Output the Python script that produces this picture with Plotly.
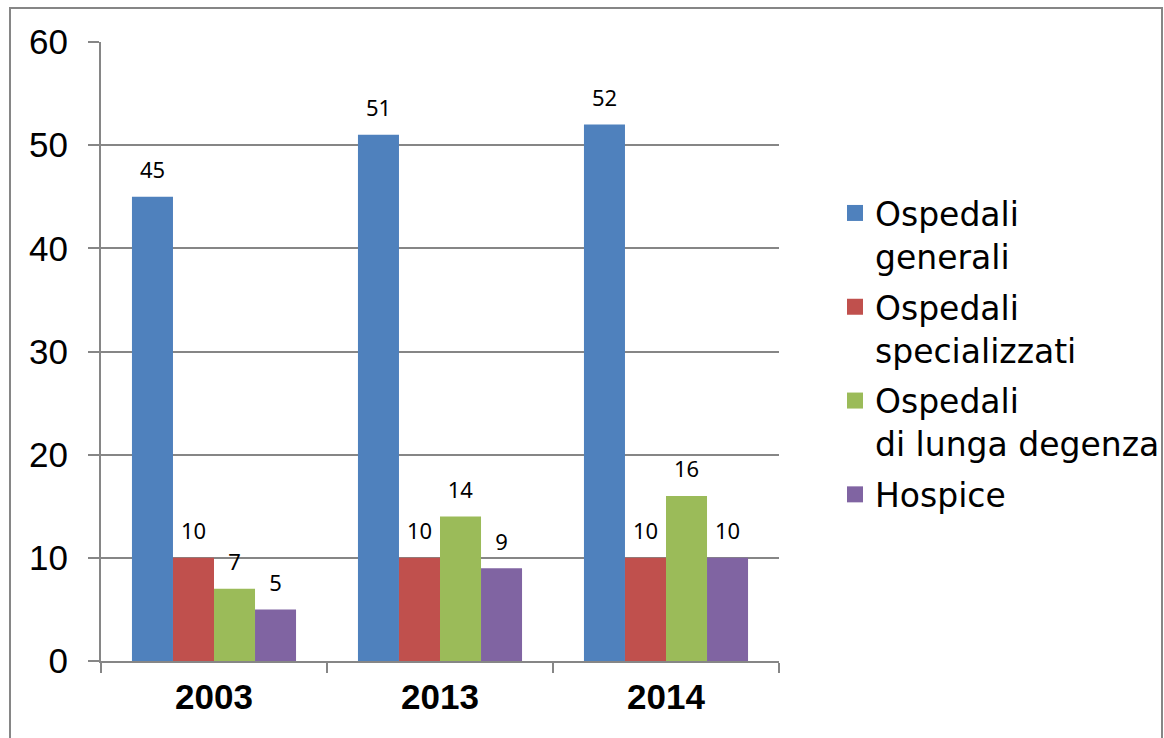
import plotly.graph_objects as go

years = ["2003", "2013", "2014"]
series_names = [
    "Ospedali<br>generali",
    "Ospedali<br>specializzati",
    "Ospedali<br>di lunga degenza",
    "Hospice",
]
generali = [45, 51, 52]
specializzati = [10, 10, 10]
lunga_degenza = [7, 14, 16]
hospice = [5, 9, 10]
y_ticks = [0, 10, 20, 30, 40, 50, 60]

colors = ["#4F81BD", "#C0504D", "#9BBB59", "#8064A2"]

# value label: big number plus a tiny second line to lift it off the bar
label_tpl = "<span style='font-size:22px'>%{y}</span><br><span style='font-size:1px'>&nbsp;</span>"

fig = go.Figure()
for i, (name, vals, col) in enumerate(zip(series_names, [generali, specializzati, lunga_degenza, hospice], colors)):
    fig.add_trace(go.Bar(
        name=name,
        x=years,
        y=vals,
        marker=dict(color=col, line=dict(width=0)),
        texttemplate=label_tpl,
        textposition="outside",
        textfont=dict(family="Noto Sans, Open Sans", size=12, color="#000000"),
        cliponaxis=False,
        showlegend=False,
    ))
    # legend entry with a bigger square swatch
    fig.add_trace(go.Scatter(
        name=name,
        x=[None],
        y=[None],
        mode="markers",
        marker=dict(symbol="square", size=18, color=col),
        legendgroup=f"g{i}",
        showlegend=True,
    ))

L, R, T, B = 101, 385, 42, 77
pw, ph = 1164 - L - R, 738 - T - B

fig.update_layout(
    width=1164,
    height=738,
    margin=dict(l=L, r=R, t=T, b=B, autoexpand=False),
    paper_bgcolor="white",
    plot_bgcolor="white",
    font=dict(family="Liberation Sans, Arial", color="#000000"),
    barmode="group",
    bargap=0.274,
    bargroupgap=0,
    xaxis=dict(
        type="category",
        showline=True,
        linecolor="#868686",
        linewidth=2,
        ticks="outside",
        tickson="boundaries",
        ticklen=10,
        tickwidth=2,
        tickcolor="#868686",
        tickfont=dict(size=35, family="Liberation Sans, Arial", weight="bold"),
        ticklabelstandoff=4,
        showgrid=False,
    ),
    yaxis=dict(
        range=[0, 60],
        tickvals=y_ticks,
        showline=True,
        linecolor="#868686",
        linewidth=2,
        ticks="outside",
        ticklen=11,
        tickwidth=2,
        tickcolor="#868686",
        showgrid=True,
        gridcolor="#868686",
        gridwidth=2,
        tickfont=dict(size=35),
        ticklabelstandoff=13,
        zeroline=False,
    ),
    legend=dict(
        x=(835 - L) / pw,
        xanchor="left",
        y=(661 - 185) / ph,
        yanchor="top",
        font=dict(size=33, family="DejaVu Sans"),
        bgcolor="rgba(0,0,0,0)",
        itemsizing="trace",
        valign="top",
        tracegroupgap=5,
    ),
    showlegend=True,
)

fig.add_shape(
    type="rect",
    xref="paper", yref="paper",
    x0=(10 - L) / pw, x1=(1162 - L) / pw,
    y0=(661 - 745) / ph, y1=(661 - 8) / ph,
    line=dict(color="#868686", width=2),
    fillcolor="rgba(0,0,0,0)",
    layer="below",
)

fig.write_html(
    "out.html",
    config={"displayModeBar": False},
    post_script="document.body.style.margin='0';",
)
